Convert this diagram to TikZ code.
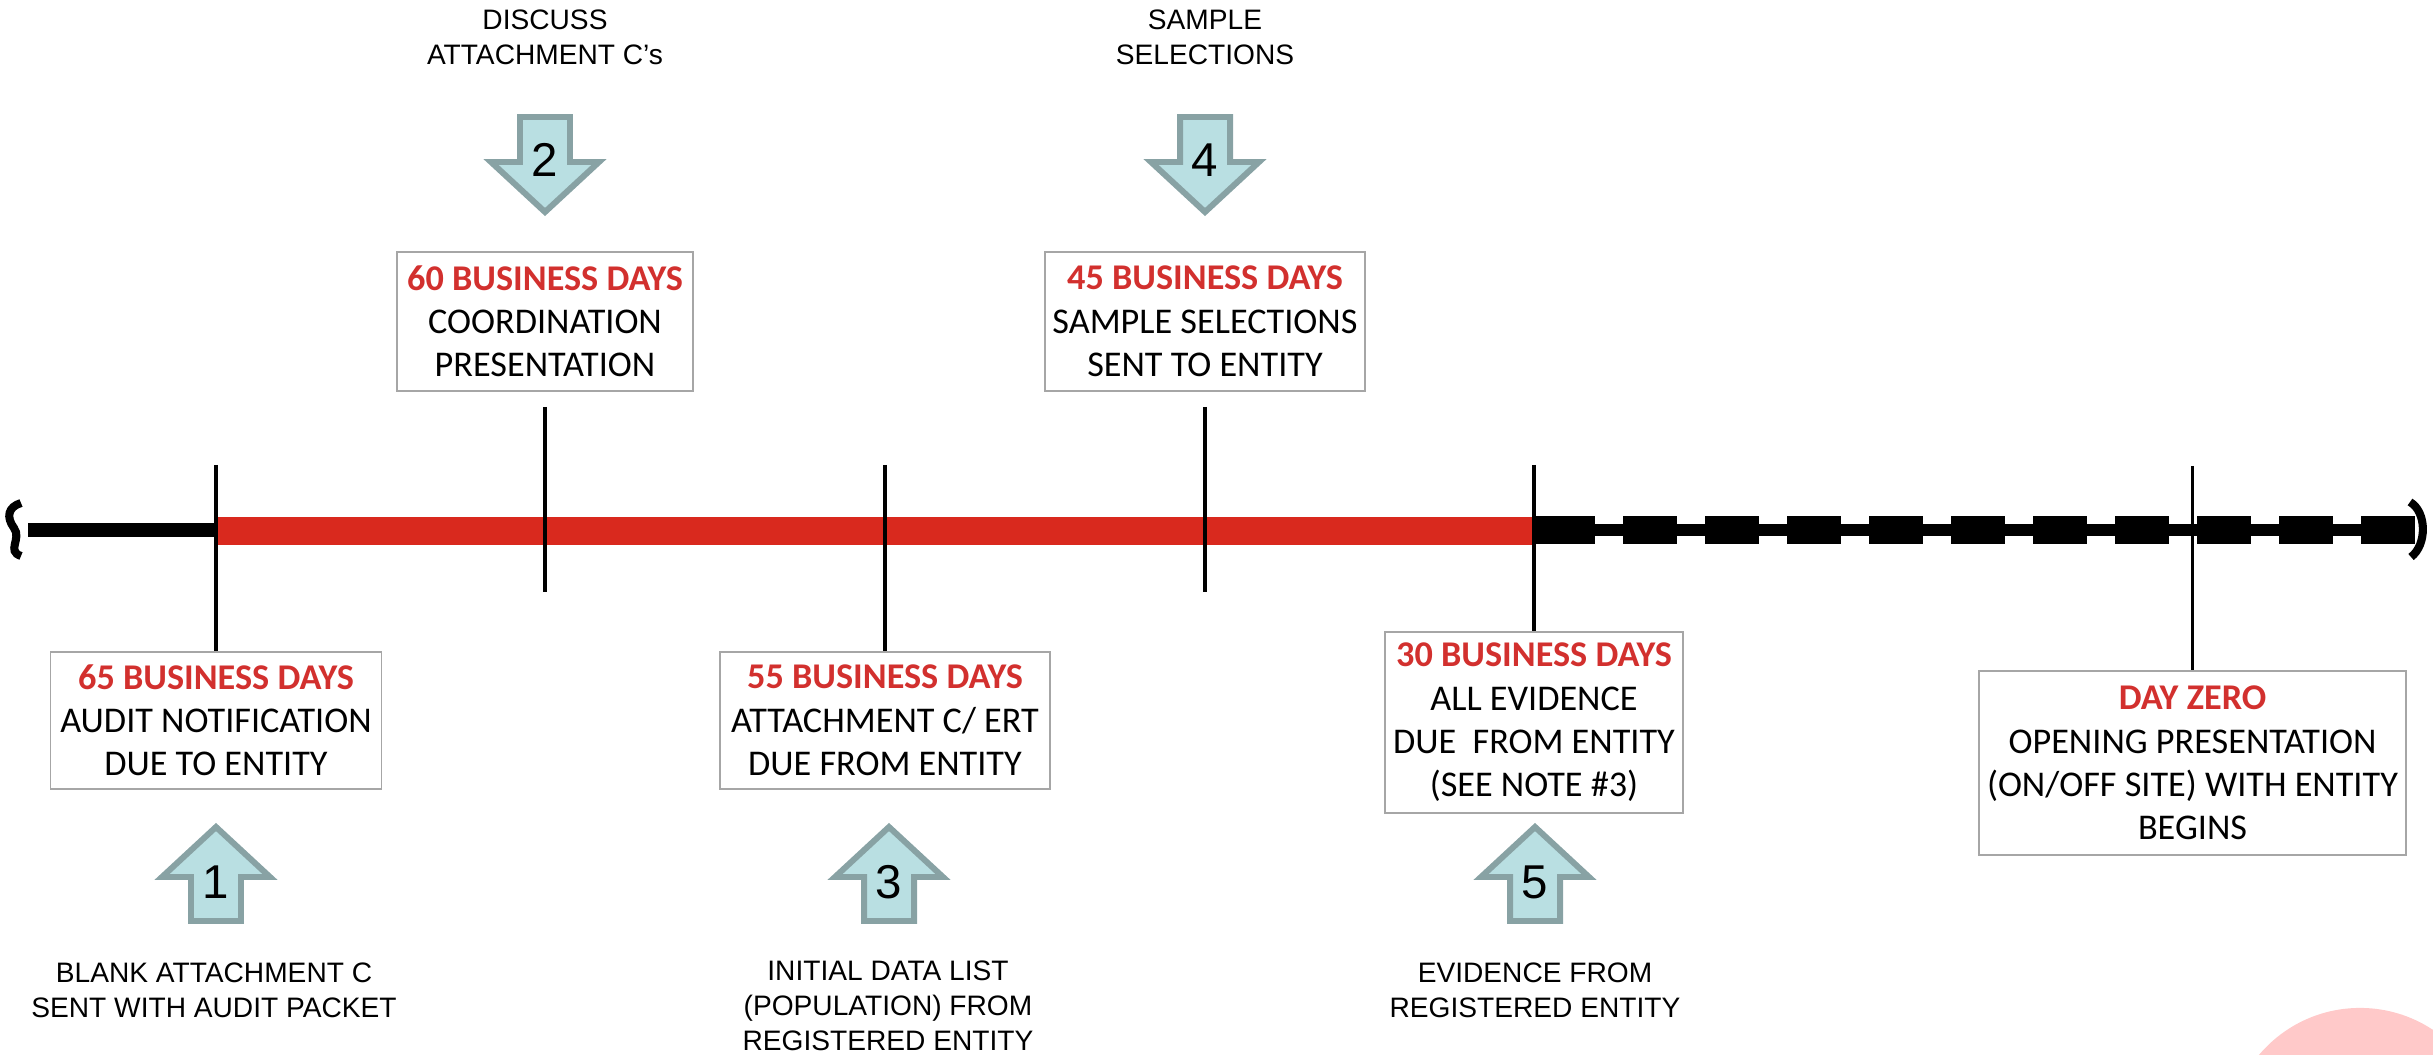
\documentclass[tikz,border=0pt]{standalone}
\usepackage{fontspec}
\setmainfont{Carlito}
\newfontfamily\arialfont{Liberation Sans}
\usepackage{tikz}

\definecolor{barred}{HTML}{D9291E}
\definecolor{dayred}{HTML}{D2302E}
\definecolor{arrowfill}{HTML}{B9DFE2}
\definecolor{arrowedge}{HTML}{88A2A4}
\definecolor{boxedge}{HTML}{A6A6A6}
\definecolor{blushpink}{HTML}{FFC9C9}

\tikzset{
	daybox/.style={draw=boxedge, line width=0.5pt, align=center, inner sep=0pt, font=\fontsize{10.3}{12.3}\selectfont},
	tickline/.style={line width=1.1pt},
	note/.style={align=center, inner sep=0pt, font=\arialfont\fontsize{8}{9.9}\selectfont},
	stepnum/.style={inner sep=0pt, font=\arialfont\fontsize{13.5}{13.5}\selectfont},
	numarrow/.style={fill=arrowfill, draw=arrowedge, line width=1.7pt}
}
\newcommand{\dayhead}[1]{\textcolor{dayred}{\textbf{#1}}}

\begin{document}
\begin{tikzpicture}[x=0.01cm, y=-0.01cm]
					\useasboundingbox (0,0) rectangle (2433,1055);
					
					\scope %pink corner
					\clip (0,0) rectangle (2433,1055);
					\fill[blushpink] (2360,1140) circle (1.32cm);
					\endscope
					
					%timeline
					\fill (28,523) rectangle (217,537);
					\fill[barred] (217,517) rectangle (1535,545);
					\fill (1535,524) rectangle (2415,536);
					\fill (1535,516) rectangle (1595,544);
					\foreach \x in {1623,1705,...,2361}
						\fill (\x,516) rectangle (\x+54,544);
					\draw[line width=2.3pt] (21,503) .. controls (8,507) and (6,517) .. (14,528) .. controls (22,539) and (6,551) .. (21,556);
					\draw[line width=2.3pt] (2410,502) .. controls (2427,512) and (2427,545) .. (2411,557);
					
					%boxes
					\node [daybox, minimum width=3.31cm, minimum height=1.37cm] (d65) at (216,720.5) {\dayhead{65 BUSINESS DAYS}\\AUDIT NOTIFICATION\\DUE TO ENTITY};
					\node [daybox, minimum width=2.96cm, minimum height=1.39cm] (d60) at (545,321.5) {\dayhead{60 BUSINESS DAYS}\\COORDINATION\\PRESENTATION};
					\node [daybox, minimum width=3.30cm, minimum height=1.37cm] (d55) at (885,720.5) {\dayhead{55 BUSINESS DAYS}\\ATTACHMENT C/ ERT\\DUE FROM ENTITY};
					\node [daybox, minimum width=3.20cm, minimum height=1.39cm] (d45) at (1205,321.5) {\dayhead{45 BUSINESS DAYS}\\SAMPLE SELECTIONS\\SENT TO ENTITY};
					\node [daybox, minimum width=2.98cm, minimum height=1.81cm] (d30) at (1534,722.5) {\dayhead{30 BUSINESS DAYS}\\ALL EVIDENCE\\DUE\ \ FROM ENTITY\\(SEE NOTE \#3)};
					\node [daybox, minimum width=4.27cm, minimum height=1.84cm] (d0) at (2192.5,763) {\dayhead{DAY ZERO}\\OPENING PRESENTATION\\(ON/OFF SITE) WITH ENTITY\\BEGINS};
					
					%ticks
					\draw[tickline] (216,465) -- (d65.north);
					\draw[tickline] (545,407) -- (545,592);
					\draw[tickline] (885,465) -- (d55.north);
					\draw[tickline] (1205,407) -- (1205,592);
					\draw[tickline] (1534,465) -- (d30.north);
					\draw[tickline] (2192.5,466) -- (d0.north);
					
					%down arrows
					\foreach \x/\n in {545/2,1205/4}{
						\draw[numarrow] (\x-25,117) -- (\x+25,117) -- (\x+25,162) -- (\x+54,162) -- (\x,212) -- (\x-54,162) -- (\x-25,162) -- cycle;
						\node [stepnum] (n\n) at (\x,160) {\n};
					}
					%up arrows
					\foreach \x/\n in {216/1,889/3,1535/5}{
						\draw[numarrow] (\x-25,921) -- (\x+25,921) -- (\x+25,877) -- (\x+54,877) -- (\x,827) -- (\x-54,877) -- (\x-25,877) -- cycle;
						\node [stepnum] (n\n) at (\x,882) {\n};
					}
					
					%labels
					\node [note] (t2) at (545,37) {DISCUSS\\ATTACHMENT C’s};
					\node [note] (t4) at (1205,37) {SAMPLE\\SELECTIONS};
					\node [note] (t1) at (214,990) {BLANK ATTACHMENT C\\SENT WITH AUDIT PACKET};
					\node [note] (t3) at (888,1006) {INITIAL DATA LIST\\(POPULATION) FROM\\REGISTERED ENTITY};
					\node [note] (t5) at (1535,990) {EVIDENCE FROM\\REGISTERED ENTITY};
				\end{tikzpicture}
\end{document}
